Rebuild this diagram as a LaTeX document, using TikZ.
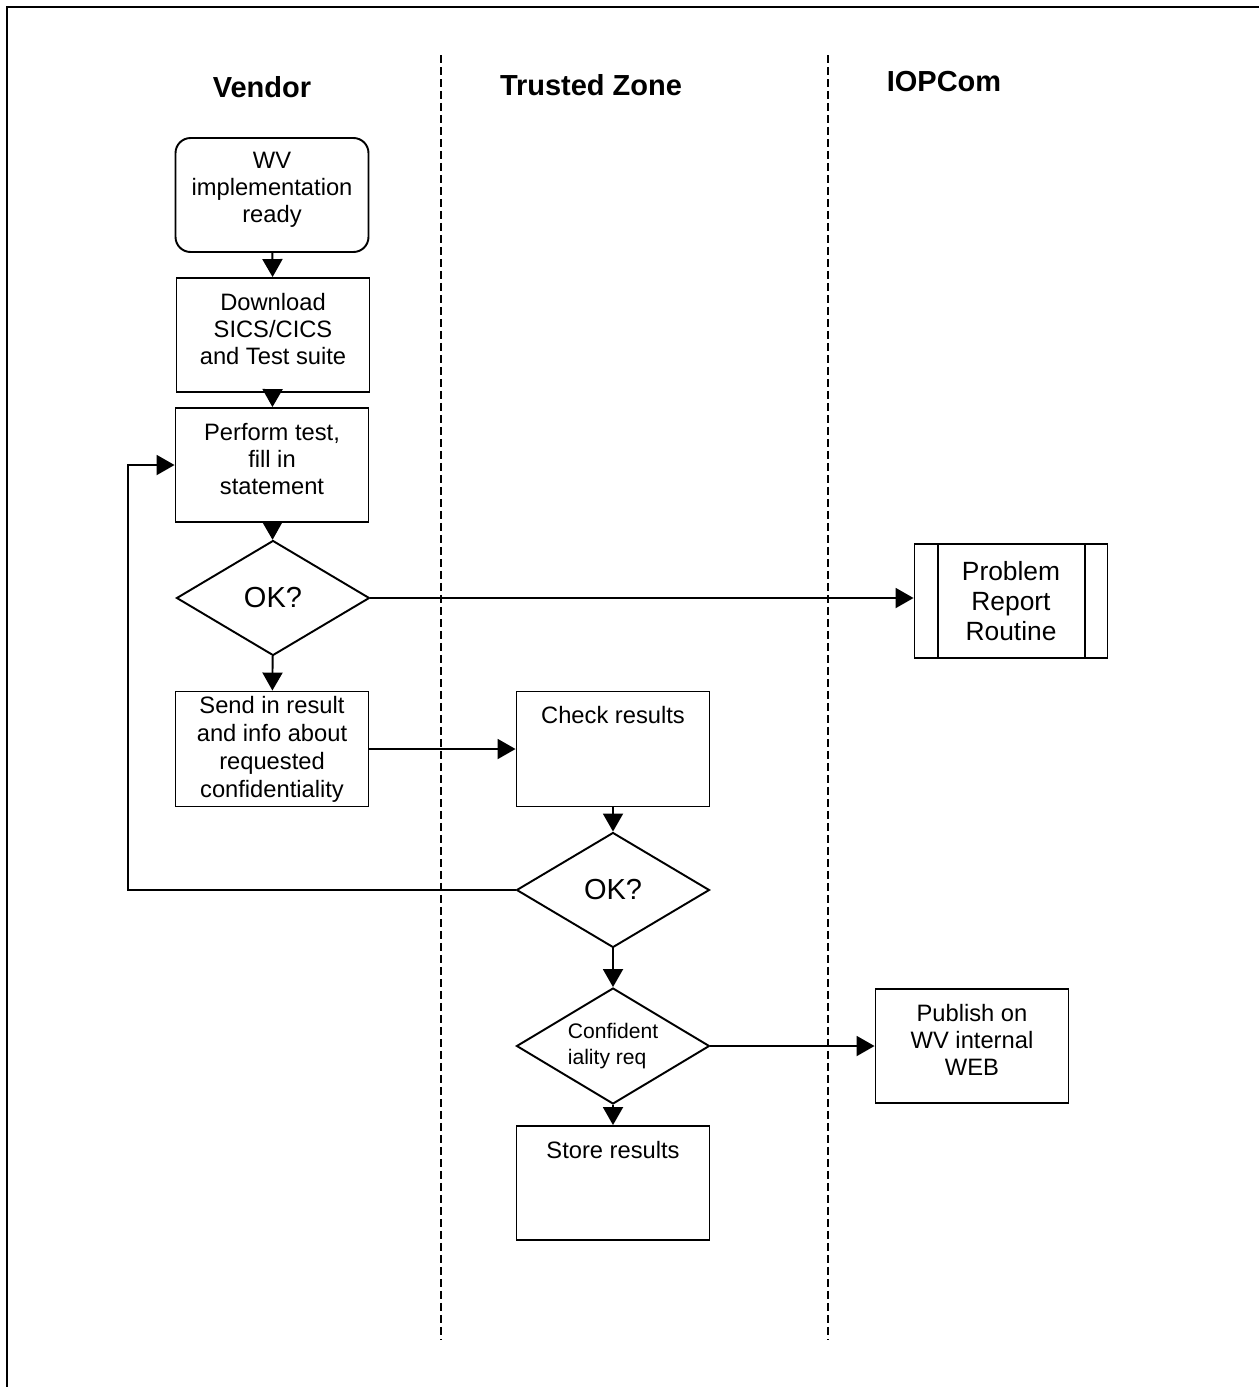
\documentclass[tikz,border=0pt]{standalone}
\usepackage{fontspec}
\setmainfont{Liberation Sans}
\usetikzlibrary{shapes, arrows.meta, positioning}

\begin{document}
\begin{tikzpicture}[x=0.02cm, y=-0.02cm,
        procbox/.style={draw, line width=1.1pt, align=center, minimum width=3.86cm, minimum height=2.28cm, inner sep=2pt, font=\fontsize{13.5}{15.5}\selectfont},
        raised/.style={text depth=0.24cm},
        startbox/.style={procbox, text depth=0.3cm, rounded corners=0.3cm},
        decbox/.style={draw, diamond, line width=1.1pt, aspect=2, inner sep=0pt, minimum width=3.86cm, minimum height=2.3cm, font=\fontsize{16.5}{19}\selectfont},
        boxlabel/.style={anchor=north, font=\fontsize{13.5}{15.5}\selectfont, yshift=-0.2cm},
        lane/.style={font=\fontsize{16.5}{19}\selectfont\bfseries},
        conn/.style={line width=1.1pt, -{Triangle[length=0.36cm, width=0.4cm]}}
    ]
    \useasboundingbox (0,0) rectangle (1259,1387);

    % Frame and swimlanes
    \draw[line width=1.2pt] (7,1387) -- (7,7) -- (1259,7);
    \draw[line width=1pt, dash pattern=on 0.16cm off 0.08cm] (441,55) -- (441,1340);
    \draw[line width=1pt, dash pattern=on 0.16cm off 0.08cm] (828,55) -- (828,1340);

    \node[lane] (vendor) at (262,87) {Vendor};
    \node[lane] (trusted) at (591,85) {Trusted Zone};
    \node[lane] (iopcom) at (944,82) {IOPCom};

    % Vendor column
    \node[startbox] (ready) at (272,195) {WV\\implementation\\ready};
    \node[procbox, raised] (download) at (273,335) {Download\\SICS/CICS\\and Test suite};
    \node[procbox, raised] (perform) at (272,465) {Perform test,\\fill in\\statement};
    \node[decbox] (ok1) at (273,598) {OK?};
    \node[procbox, minimum height=2.3cm, font=\fontsize{13.5}{15.9}\selectfont] (send) at (272,749)
        {Send in result\\and info about\\requested\\confidentiality};

    % Trusted zone column
    \node[procbox, minimum height=2.3cm] (check) at (613,749) {};
    \node[boxlabel] (checktxt) at (check.north) {Check results};
    \node[decbox] (ok2) at (613,890) {OK?};
    \node[decbox, minimum height=2.32cm, align=left, font=\fontsize{12}{14.8}\selectfont] (conf) at (613,1046)
        {Confident\\iality req};
    \node[procbox] (store) at (613,1183) {};
    \node[boxlabel] (storetxt) at (store.north) {Store results};

    % IOPCom column
    \node[procbox, font=\fontsize{15}{17.2}\selectfont] (problem) at (1011,601) {Problem\\Report\\Routine};
    \draw[line width=1.1pt] ([xshift=0.48cm]problem.north west) -- ([xshift=0.48cm]problem.south west);
    \draw[line width=1.1pt] ([xshift=-0.46cm]problem.north east) -- ([xshift=-0.46cm]problem.south east);
    \node[procbox, raised] (publish) at (972,1046) {Publish on\\WV internal\\WEB};

    % Connectors
    \draw[conn] (ready) -- (download);
    \draw[conn] (download) -- (perform);
    \draw[conn] (perform) -- (ok1);
    \draw[conn] (ok1) -- (send);
    \draw[conn] (ok1.east) -- (ok1.east -| problem.west);
    \draw[conn] (send) -- (check);
    \draw[conn] (check) -- (ok2);
    \coordinate (loop) at (128,890);
    \draw[conn] (ok2.west) -- (loop) |- (perform.west);
    \draw[conn] (ok2) -- (conf);
    \draw[conn] (conf.east) -- (conf.east -| publish.west);
    \draw[conn] (conf) -- (store);
\end{tikzpicture}
\end{document}
